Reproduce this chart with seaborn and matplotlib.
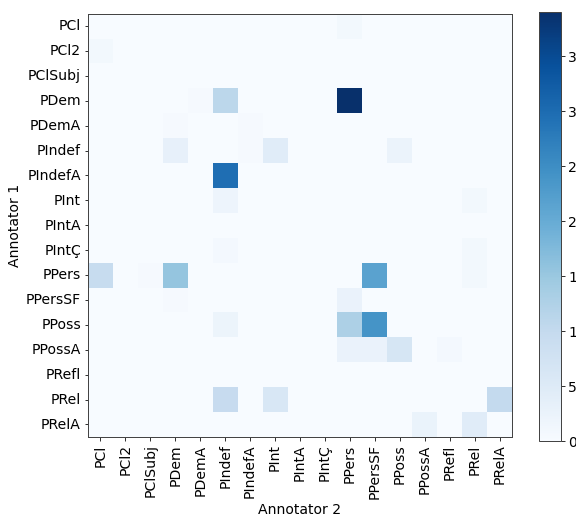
import numpy as np
import pandas as pd
import matplotlib
matplotlib.use("Agg")
import matplotlib.pyplot as plt
import seaborn as sns

labels = ["PCl", "PCl2", "PClSubj", "PDem", "PDemA", "PIndef", "PIndefA",
          "PInt", "PIntA", "PIntÇ", "PPers", "PPersSF", "PPoss", "PPossA",
          "PRefl", "PRel", "PRelA"]

# Non-zero cells of the confusion matrix: (Annotator 1 tag, Annotator 2 tag, count)
row_tags = ["PCl", "PCl2", "PDem", "PDem", "PDem", "PDemA", "PDemA",
            "PIndef", "PIndef", "PIndef", "PIndef", "PIndefA",
            "PInt", "PInt", "PIntÇ", "PIntÇ",
            "PPers", "PPers", "PPers", "PPers", "PPers",
            "PPersSF", "PPersSF", "PPoss", "PPoss", "PPoss",
            "PPossA", "PPossA", "PPossA", "PPossA",
            "PRel", "PRel", "PRel", "PRelA", "PRelA"]
col_tags = ["PPers", "PCl", "PDemA", "PIndef", "PPers", "PDem", "PIndefA",
            "PDem", "PIndefA", "PInt", "PPoss", "PIndef",
            "PIndef", "PRel", "PIndef", "PRel",
            "PCl", "PClSubj", "PDem", "PPersSF", "PRel",
            "PDem", "PPers", "PIndef", "PPers", "PPersSF",
            "PPers", "PPersSF", "PPoss", "PRefl",
            "PIndef", "PInt", "PRelA", "PPossA", "PRel"]
counts = [10, 10, 5, 110, 390, 6, 5,
          32, 5, 45, 23, 296,
          20, 10, 8, 10,
          95, 6, 155, 215, 10,
          6, 27, 22, 128, 240,
          27, 27, 65, 8,
          97, 62, 100, 25, 45]

matrix = pd.DataFrame(0, index=labels, columns=labels, dtype=float)
for r, c, v in zip(row_tags, col_tags, counts):
    matrix.loc[r, c] = v

fig = plt.figure(figsize=(8, 7.2), dpi=72)
ax = fig.add_axes([88 / 576, 1 - 437 / 518, 424 / 576, 423 / 518])
cax = fig.add_axes([539 / 576, 1 - 441 / 518, 22 / 576, 429 / 518])

sns.heatmap(matrix, cmap="Blues", ax=ax, cbar_ax=cax, xticklabels=labels,
            yticklabels=labels, vmin=0)

for spine in ax.spines.values():
    spine.set_visible(True)
    spine.set_linewidth(1.0)
    spine.set_color("#444444")

cb = ax.collections[0].colorbar
cb.outline.set_visible(True)
cb.outline.set_linewidth(1.0)
cb.outline.set_edgecolor("#444444")
cb.set_ticks([0, 50, 100, 150, 200, 250, 300, 350])
cb.ax.tick_params(labelsize=14)

ax.tick_params(axis="both", labelsize=14, length=3.5)
ax.set_xticklabels(labels, rotation=90)
ax.set_yticklabels(labels, rotation=0)
ax.set_xlabel("Annotator 2", fontsize=14)
ax.set_ylabel("Annotator 1", fontsize=14)

fig.savefig("out.png", dpi=72)
